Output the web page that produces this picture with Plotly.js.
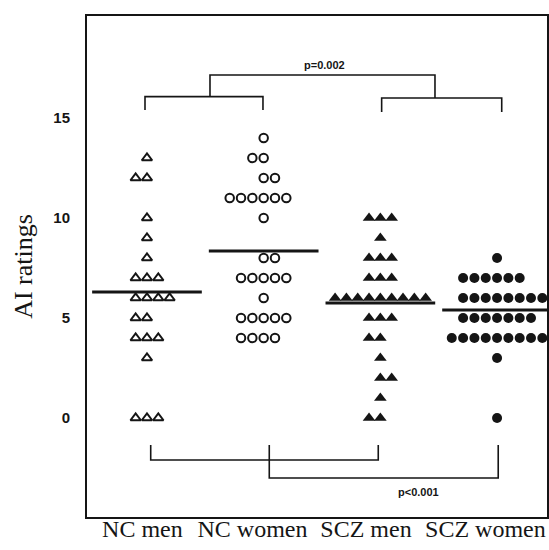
<!DOCTYPE html>
<html>
<head>
<meta charset="utf-8">
<script src="https://cdn.plot.ly/plotly-3.0.1.min.js"></script>
<style>html,body{margin:0;padding:0;background:#fff;}#chart{width:549px;height:550px;}</style>
</head>
<body>
<div id="chart"></div>
<script>
// ---- data ----
const groups = ["NC men", "NC women", "SCZ men", "SCZ women"];

const ncMenValues   = [13, 12, 10, 9, 8, 7, 6, 5, 4, 3, 0];
const ncMenCounts   = [1, 2, 1, 1, 1, 3, 4, 2, 3, 1, 3];

const ncWomenValues = [14, 13, 12, 11, 10, 8, 7, 6, 5, 4];
const ncWomenCounts = [1, 2, 2, 6, 1, 2, 5, 1, 5, 4];

const sczMenValues  = [10, 9, 8, 7, 6, 5, 4, 3, 2, 1, 0];
const sczMenCounts  = [3, 1, 3, 3, 9, 3, 2, 1, 2, 1, 2];

const sczWomenValues = [8, 7, 6, 5, 4, 3, 0];
const sczWomenCounts = [1, 6, 9, 7, 9, 1, 1];

const groupMeans = [6.3, 8.35, 5.75, 5.4];

const pTop = "p=0.002";
const pBottom = "p<0.001";

// ---- layout of the dot columns (first column offset for each row) ----
const ncMenStart    = [0, -1, 0, 0, 0, -1, -1, -1, -1, 0, -1];
const ncWomenStart  = [0, -1, 0, -3, 0, 0, -2, 0, -2, -2];
const sczMenStart   = [-1, 0, -1, -1, -4, -1, -1, 0, 0, 0, -1];
const sczWomenStart = [0, -3, -3, -3, -4, 0, 0];
const colStep = 0.097;

function dots(gi, values, counts, starts) {
  const xs = [], ys = [];
  values.forEach((v, r) => {
    for (let k = 0; k < counts[r]; k++) {
      xs.push(gi + (starts[r] + k) * colStep);
      ys.push(v);
    }
  });
  return {xs, ys};
}

const ink = "#151515";
const specs = [
  [ncMenValues, ncMenCounts, ncMenStart, {symbol: "triangle-up-open", size: 9, color: ink, line: {width: 2, color: ink}}],
  [ncWomenValues, ncWomenCounts, ncWomenStart, {symbol: "circle-open", size: 8.5, color: ink, line: {width: 2, color: ink}}],
  [sczMenValues, sczMenCounts, sczMenStart, {symbol: "triangle-up", size: 11, color: ink, line: {width: 0}}],
  [sczWomenValues, sczWomenCounts, sczWomenStart, {symbol: "circle", size: 10, color: ink, line: {width: 0}}]
];

const traces = [];
specs.forEach((s, gi) => {
  const d = dots(gi, s[0], s[1], s[2]);
  traces.push({type: "scatter", mode: "markers", x: d.xs, y: d.ys, marker: s[3],
               hoverinfo: "skip", showlegend: false, cliponaxis: true});
});
groupMeans.forEach((m, gi) => {
  traces.push({type: "scatter", mode: "lines", x: [gi - 0.47, gi + 0.47], y: [m, m],
               line: {color: ink, width: 3}, hoverinfo: "skip", showlegend: false});
});

const ln = {color: ink, width: 1.6};
function path(pts) {
  return {type: "path", xref: "x", yref: "y", line: ln,
          path: pts.map((p, i) => (i ? "L" : "M") + p[0] + "," + p[1]).join(" ")};
}
const shapes = [
  path([[-0.017, 15.4], [-0.017, 16.07], [0.994, 16.07], [0.994, 15.4]]),
  path([[2.011, 15.3], [2.011, 16.0], [3.04, 16.0], [3.04, 15.3]]),
  path([[0.54, 16.07], [0.54, 17.15], [2.468, 17.15], [2.468, 16.0]]),
  path([[0.032, -1.35], [0.032, -2.1], [1.982, -2.1], [1.982, -1.35]]),
  path([[1.048, -1.35], [1.048, -3.0], [3.01, -3.0], [3.01, -1.35]])
];

const layout = {
  width: 549, height: 550,
  margin: {l: 87, r: 2, t: 16, b: 33},
  paper_bgcolor: "#fff", plot_bgcolor: "#fff",
  xaxis: {
    range: [-0.514, 3.428], showgrid: false, zeroline: false,
    showline: true, mirror: true, linecolor: ink, linewidth: 2,
    ticks: "", tickvals: [-0.039, 0.904, 1.877, 2.9], ticktext: groups,
    tickfont: {family: "Liberation Serif, Times New Roman, serif", size: 24, color: ink},
    ticklabelstandoff: -11
  },
  yaxis: {
    range: [-4.95, 20.1], showgrid: false, zeroline: false,
    showline: true, mirror: true, linecolor: ink, linewidth: 2,
    ticks: "", tickvals: [0, 5, 10, 15],
    tickfont: {family: "Liberation Sans, Arial, sans-serif", size: 15, color: ink, weight: "bold"},
    ticklabelstandoff: 12,
    title: {text: "AI ratings", font: {family: "Liberation Serif, Times New Roman, serif", size: 26, color: ink}, standoff: 13}
  },
  shapes: shapes,
  annotations: [
    {x: 1.525, y: 17.65, xref: "x", yref: "y", text: pTop, showarrow: false,
     font: {family: "Liberation Sans, Arial, sans-serif", size: 11, color: ink, weight: "bold"}},
    {x: 2.33, y: -3.7, xref: "x", yref: "y", text: pBottom, showarrow: false,
     font: {family: "Liberation Sans, Arial, sans-serif", size: 11, color: ink, weight: "bold"}}
  ]
};

Plotly.newPlot("chart", traces, layout, {displayModeBar: false, staticPlot: true});
</script>
</body>
</html>
